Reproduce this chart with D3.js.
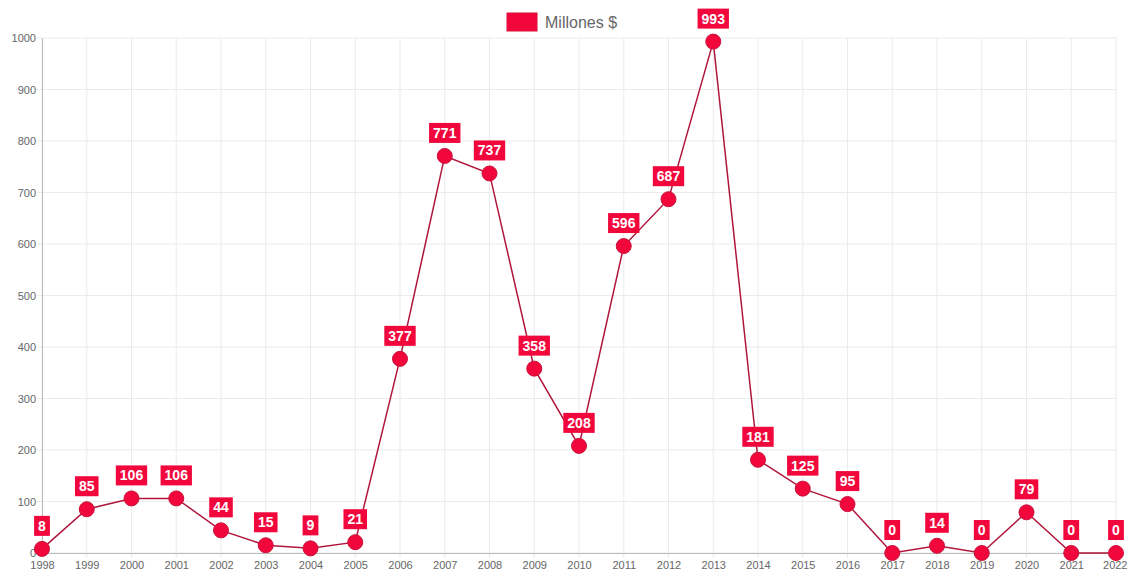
<!DOCTYPE html>
<html><head><meta charset="utf-8">
<script src="https://cdn.jsdelivr.net/npm/d3@7"></script>
<style>body{margin:0;background:#fff;}svg{display:block;font-family:"Liberation Sans",Arial,Helvetica,sans-serif;}</style>
</head><body><svg id="c" width="1128" height="571"></svg>
<script>
const years = ["1998","1999","2000","2001","2002","2003","2004","2005","2006","2007","2008","2009","2010","2011","2012","2013","2014","2015","2016","2017","2018","2019","2020","2021","2022"];
const values = [8,85,106,106,44,15,9,21,377,771,737,358,208,596,687,993,181,125,95,0,14,0,79,0,0];
const yTicks = [0,100,200,300,400,500,600,700,800,900,1000];
const seriesName = "Millones $";

(function(){
const svg = d3.select("#c");
const pL = 42, pR = 1116, pT = 38, pB = 553;
const x = d3.scalePoint().domain(years).range([pL, pR]);
const y = d3.scaleLinear().domain([0,1000]).range([pB, pT]);

// grid
svg.append("g").selectAll("line").data(years).join("line")
  .attr("x1", d=>x(d)).attr("x2", d=>x(d)).attr("y1", pT).attr("y2", pB+5)
  .attr("stroke", "#ebebeb").attr("stroke-width", 1);
svg.append("g").selectAll("line").data(yTicks).join("line")
  .attr("x1", pL-5).attr("x2", pR).attr("y1", d=>y(d)).attr("y2", d=>y(d))
  .attr("stroke", "#ebebeb").attr("stroke-width", 1);

// axes
const yAxis = svg.append("g").attr("transform", `translate(${pL},0)`)
  .call(d3.axisLeft(y).tickValues(yTicks).tickFormat(d3.format("d")).tickSize(0).tickPadding(6));
yAxis.select(".domain").attr("stroke", "#bbb");
yAxis.selectAll("text").attr("fill", "#666").style("font-size", "11px");
const xAxis = svg.append("g").attr("transform", `translate(0,${pB})`)
  .call(d3.axisBottom(x).tickSize(0).tickPadding(8));
xAxis.select(".domain").attr("stroke", "#bbb");
xAxis.selectAll("text").attr("fill", "#666").style("font-size", "11px");
xAxis.selectAll("text").filter(d=>d===years[years.length-1]).attr("text-anchor","end").attr("dx", 11);

// line
svg.append("path").datum(values)
  .attr("d", d3.line().x((d,i)=>x(years[i])).y(d=>y(d)))
  .attr("fill", "none").attr("stroke", "#b0163c").attr("stroke-width", 1.5);

// points
svg.append("g").selectAll("circle").data(values).join("circle")
  .attr("cx", (d,i)=>x(years[i])).attr("cy", d=>y(d)).attr("r", 7.5)
  .attr("fill", "#f2073d").attr("stroke", "#c8103a").attr("stroke-width", 1);

// labels
const lg = svg.append("g").selectAll("g").data(values).join("g")
  .attr("transform", (d,i)=>`translate(${x(years[i])},${y(d)})`);
lg.each(function(d){
  const g = d3.select(this);
  const t = g.append("text").text(d).attr("text-anchor","middle")
    .attr("y", -18).attr("fill","#fff").style("font-size","14px").style("font-weight","bold");
  const w = t.node().getComputedTextLength() + 8;
  g.insert("rect","text").attr("x",-w/2).attr("y",-33).attr("width",w).attr("height",20).attr("fill","#f2073d");
});

// legend
svg.append("rect").attr("x",507).attr("y",13).attr("width",30).attr("height",18)
  .attr("fill","#f2073d").attr("stroke","#e0103a");
svg.append("text").attr("x",545).attr("y",28).text(seriesName)
  .attr("fill","#666").style("font-size","16px");
})();
</script></body></html>
